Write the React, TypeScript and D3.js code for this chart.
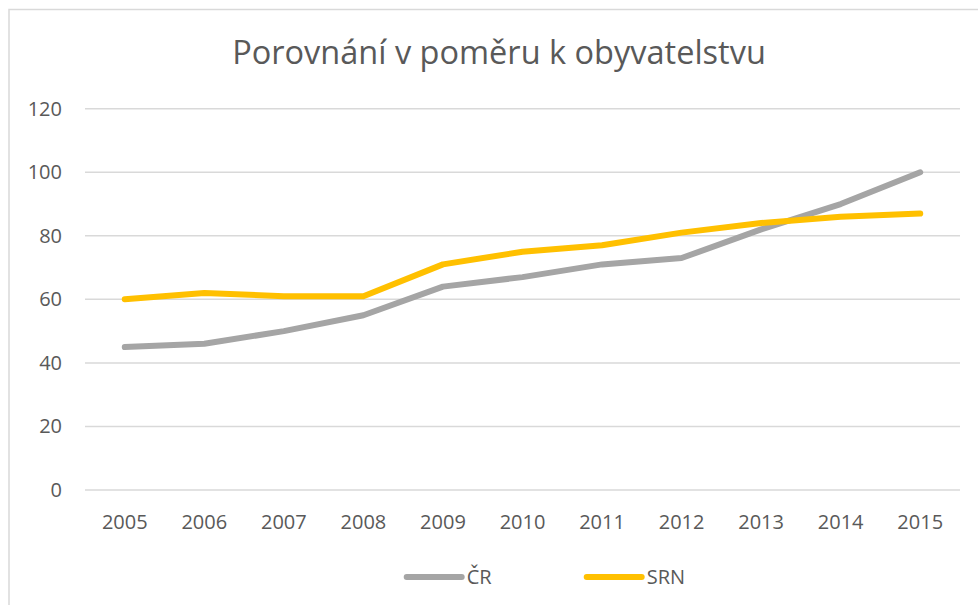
import React from "react";
import * as d3 from "d3";

const years = ["2005", "2006", "2007", "2008", "2009", "2010", "2011", "2012", "2013", "2014", "2015"];
const crValues = [45, 46, 50, 55, 64, 67, 71, 73, 82, 90, 100];
const srnValues = [60, 62, 61, 61, 71, 75, 77, 81, 84, 86, 87];
const yTicks = [0, 20, 40, 60, 80, 100, 120];
const seriesNames = ["ČR", "SRN"];
const seriesColors = ["#A5A5A5", "#FFC000"];

const W = 978;
const H = 605;
const plotLeft = 85;
const plotRight = 960;
const plotTop = 108.7;
const plotBottom = 490;
const FONT = "'Open Sans', sans-serif";
const TEXT = "#595959";

export default function App() {
  const x = d3.scaleBand<string>().domain(years).range([plotLeft, plotRight]);
  const y = d3.scaleLinear().domain([0, 120]).range([plotBottom, plotTop]);
  const cx = (d: string) => (x(d) as number) + x.bandwidth() / 2;
  const line = d3
    .line<number>()
    .x((_, i) => cx(years[i]))
    .y((v) => y(v));
  const series = [crValues, srnValues];
  const legendX = [406.7, 586.7];
  const legendY = 577;

  return (
    <svg
      width={W}
      height={H}
      style={{ position: "absolute", left: 0, top: 0, background: "#fff" }}
    >
      <rect x={0} y={0} width={W} height={H} fill="#fff" />
      <rect x={9} y={9.5} width={1000} height={640} fill="#fff" stroke="#d9d9d9" strokeWidth={1.5} />
      <text
        x={499}
        y={64}
        textAnchor="middle"
        fontFamily={FONT}
        fontSize={32.5}
        fill={TEXT}
      >
        Porovnání v poměru k obyvatelstvu
      </text>
      {yTicks.map((t) => (
        <g key={t}>
          <line x1={plotLeft} x2={plotRight} y1={y(t)} y2={y(t)} stroke="#d9d9d9" strokeWidth={1.5} />
          <text x={62} y={y(t) + 7} textAnchor="end" fontFamily={FONT} fontSize={20} fill={TEXT}>
            {t}
          </text>
        </g>
      ))}
      {years.map((yr) => (
        <text key={yr} x={cx(yr)} y={529} textAnchor="middle" fontFamily={FONT} fontSize={20} fill={TEXT}>
          {yr}
        </text>
      ))}
      {series.map((vals, i) => (
        <path
          key={i}
          d={line(vals) as string}
          fill="none"
          stroke={seriesColors[i]}
          strokeWidth={6}
          strokeLinecap="round"
          strokeLinejoin="round"
        />
      ))}
      {seriesNames.map((n, i) => (
        <g key={n}>
          <line
            x1={legendX[i]}
            x2={legendX[i] + 55}
            y1={legendY}
            y2={legendY}
            stroke={seriesColors[i]}
            strokeWidth={6}
            strokeLinecap="round"
          />
          <text x={legendX[i] + 60} y={legendY + 7} fontFamily={FONT} fontSize={20} fill={TEXT}>
            {n}
          </text>
        </g>
      ))}
    </svg>
  );
}
